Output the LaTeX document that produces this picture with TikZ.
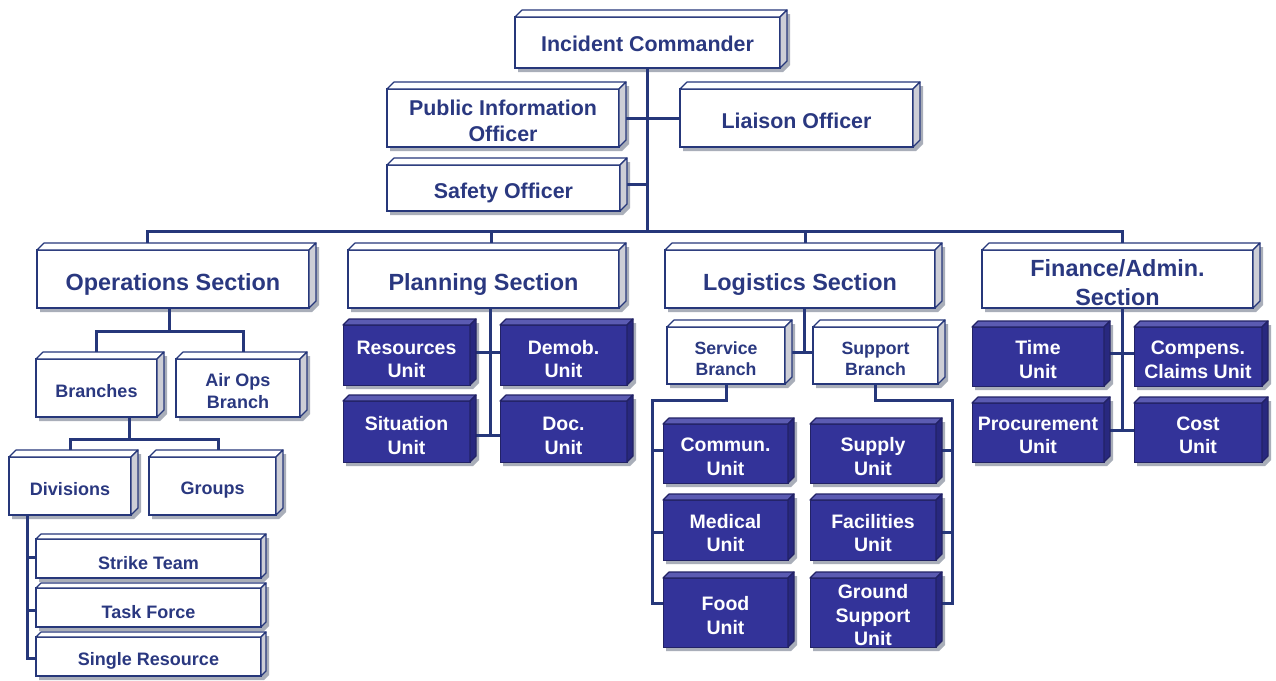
\documentclass[tikz,border=0pt]{standalone}
\usepackage{fontspec}
\setmainfont{Liberation Sans}
\usetikzlibrary{calc}
\definecolor{lineC}{HTML}{26377A}
\definecolor{txtC}{HTML}{2A3880}
\definecolor{bFront}{HTML}{333399}
\definecolor{bTop}{HTML}{5B5BB2}
\definecolor{bSide}{HTML}{28287F}
\definecolor{bEdge}{HTML}{222266}
\definecolor{wSide}{HTML}{CDCED6}
\definecolor{shadowC}{HTML}{A9AEB9}
\pgfdeclarelayer{back}\pgfdeclarelayer{shadow}\pgfdeclarelayer{lines}
\pgfsetlayers{back,shadow,lines,main}
\tikzset{
  wbox/.style={draw=lineC, line width=1.5pt, fill=white, text=txtC, inner sep=0pt, outer sep=0pt, align=center},
  bbox/.style={draw=bEdge, line width=1pt, fill=bFront, text=white, inner sep=0pt, outer sep=0pt, align=center, font=\fontsize{19.5}{23.4}\selectfont\bfseries},
  conn/.style={draw=lineC, line width=3pt, line cap=rect},
  fsec/.style={font=\fontsize{23.4}{28.1}\selectfont\bfseries},
  foff/.style={font=\fontsize{21.4}{25.7}\selectfont\bfseries},
  fsmall/.style={font=\fontsize{18}{21.6}\selectfont\bfseries},
  fbr/.style={font=\fontsize{17.7}{21.3}\selectfont\bfseries},
  sz/.style 2 args={minimum width=#1pt, minimum height=#2pt},
}
% lowers the text in its box by #1 pt (adds height above the first line)
\newcommand\sh[1][3.5]{\rule{0pt}{\dimexpr0.74em+#1pt+#1pt\relax}}
\newcommand\boxfaces[5]{%
  \path[fill=#3,draw=#5,line width=1.2pt,line join=round] (#1.north west) -- ++(#2,-#2) -- ($(#1.north east)+(#2,-#2)$) -- (#1.north east) -- cycle;
  \path[fill=#4,draw=#5,line width=1.2pt,line join=round] (#1.north east) -- ++(#2,-#2) -- ($(#1.south east)+(#2,-#2)$) -- (#1.south east) -- cycle;
  \begin{pgfonlayer}{shadow}
  \fill[shadowC] ($(#1.south west)+(3,4)$) -- ($(#1.north west)+(3,4)$) -- ($(#1.north east)+(#2+3,4-#2)$) -- ($(#1.south east)+(#2+3,4-#2)$) -- ($(#1.south east)+(3,4)$) -- cycle;
  \end{pgfonlayer}
}
\newcommand\wfaces[2]{\boxfaces{#1}{#2}{white}{wSide}{lineC}}
\newcommand\bfaces[1]{\boxfaces{#1}{6}{bTop}{bSide}{bEdge}}
\begin{document}
\begin{tikzpicture}[x=1pt,y=-1pt]
\begin{pgfonlayer}{back}
\path[use as bounding box, fill=white] (0,0) rectangle (1276,679);
\end{pgfonlayer}
% top
\node[wbox,foff,sz={265}{51}] (IC) at (647.5,42.5) {\sh[1]Incident Commander}; \wfaces{IC}{7}
\node[wbox,foff,sz={232}{58}] (PIO) at (503,118) {\sh[3]Public Information\\Officer}; \wfaces{PIO}{7}
\node[wbox,foff,sz={233}{58}] (LO) at (796.5,118) {\sh[3]Liaison Officer}; \wfaces{LO}{7}
\node[wbox,foff,sz={233}{46}] (SO) at (503.5,188) {\sh[4.5]Safety Officer}; \wfaces{SO}{7}
% sections
\node[wbox,fsec,sz={272}{58}] (OPS) at (173,279) {\sh[5]Operations Section}; \wfaces{OPS}{7}
\node[wbox,fsec,sz={271}{58}] (PLN) at (483.5,279) {\sh[5]Planning Section}; \wfaces{PLN}{7}
\node[wbox,fsec,sz={270}{58}] (LOG) at (800,279) {\sh[5]Logistics Section}; \wfaces{LOG}{7}
\node[wbox,fsec,sz={271}{58}] (FIN) at (1117.5,279) {\sh[3.5]Finance/Admin.\\Section}; \wfaces{FIN}{7}
% operations
\node[wbox,fsmall,sz={121}{58}] (BR) at (96.5,388) {\sh[3]Branches}; \wfaces{BR}{7}
\node[wbox,fsmall,sz={124}{58}] (AIR) at (238,388) {\sh[3]Air Ops\\Branch}; \wfaces{AIR}{7}
\node[wbox,fsmall,sz={122}{58}] (DIV) at (70,486) {\sh[3]Divisions}; \wfaces{DIV}{7}
\node[wbox,fsmall,sz={127}{58}] (GRP) at (212.5,486) {\sh[4]Groups}; \wfaces{GRP}{7}
\node[wbox,fsmall,sz={225}{39}] (ST) at (148.5,558.5) {\sh[4]Strike Team}; \wfaces{ST}{5}
\node[wbox,fsmall,sz={225}{39}] (TF) at (148.5,607.5) {\sh[4]Task Force}; \wfaces{TF}{5}
\node[wbox,fsmall,sz={225}{39}] (SR) at (148.5,656.5) {\sh[4]Single Resource}; \wfaces{SR}{5}
% planning
\node[bbox,sz={127}{60}] (RES) at (406.5,355) {\sh[4]Resources\\Unit}; \bfaces{RES}
\node[bbox,sz={127}{60}] (DEM) at (563.5,355) {\sh[4]Demob.\\Unit}; \bfaces{DEM}
\node[bbox,sz={127}{61}] (SIT) at (406.5,431.5) {\sh[4]Situation\\Unit}; \bfaces{SIT}
\node[bbox,sz={127}{61}] (DOC) at (563.5,431.5) {\sh[4]Doc.\\Unit}; \bfaces{DOC}
% logistics
\node[wbox,fbr,sz={118}{57}] (SVC) at (726,355.5) {\sh[3]Service\\Branch}; \wfaces{SVC}{7}
\node[wbox,fbr,sz={125}{57}] (SUP) at (875.5,355.5) {\sh[3]Support\\Branch}; \wfaces{SUP}{7}
\node[bbox,sz={125}{59}] (COM) at (725.5,453.5) {\sh[3]Commun.\\Unit}; \bfaces{COM}
\node[bbox,sz={125}{60}] (MED) at (725.5,530) {\sh[3]Medical\\Unit}; \bfaces{MED}
\node[bbox,sz={125}{69}] (FOOD) at (725.5,612.5) {\sh[3]Food\\Unit}; \bfaces{FOOD}
\node[bbox,sz={126}{59}] (SPL) at (873,453.5) {\sh[3]Supply\\Unit}; \bfaces{SPL}
\node[bbox,sz={126}{60}] (FAC) at (873,530) {\sh[3]Facilities\\Unit}; \bfaces{FAC}
\node[bbox,sz={126}{69},font=\fontsize{19.5}{23.4}\selectfont\bfseries] (GND) at (873,612.5) {\sh[2.5]Ground\\Support\\Unit}; \bfaces{GND}
% finance
\node[bbox,sz={132}{59}] (TIME) at (1038,356.5) {\sh[3]Time\\Unit}; \bfaces{TIME}
\node[bbox,sz={128}{59}] (CMP) at (1198,356.5) {\sh[3]Compens.\\Claims Unit}; \bfaces{CMP}
\node[bbox,sz={132}{59}] (PRC) at (1038,432.5) {\sh[2.5]Procurement\\Unit}; \bfaces{PRC}
\node[bbox,sz={128}{59}] (COST) at (1198,432.5) {\sh[2.5]Cost\\Unit}; \bfaces{COST}
% connectors
\begin{pgfonlayer}{lines}
\coordinate (jO) at (147,231); \coordinate (jP) at (491,231);
\coordinate (jL) at (805,231); \coordinate (jF) at (1122,231);
\draw[conn] (jO) -- (jF);
\draw[conn] (IC.south) -- (IC.south |- jO);
\draw[conn] (jO) -- (jO |- OPS.north);
\draw[conn] (jP) -- (jP |- PLN.north);
\draw[conn] (jL) -- (jL |- LOG.north);
\draw[conn] (jF) -- (jF |- FIN.north);
\draw[conn] (PIO.east) -- (LO.west);
\draw[conn] ($(SO.east)+(0,-4)$) -- ($(SO.east -| IC.south)+(0,-4)$);
% operations
\coordinate (oJ) at (169,331);
\draw[conn] (oJ |- OPS.south) -- (oJ);
\draw[conn] (BR.north) |- ($(AIR.north |- oJ)+(5,0)$) -- ($(AIR.north)+(5,0)$);
\coordinate (bJ) at (129,439);
\draw[conn] (bJ |- BR.south) -- (bJ);
\draw[conn] (DIV.north) |- ($(GRP.north |- bJ)+(6,0)$) -- ($(GRP.north)+(6,0)$);
\coordinate (dX) at (27,515);
\draw[conn] (DIV.south -| dX) |- ($(SR.west)+(0,2)$);
\draw[conn] ($(dX |- ST.west)+(0,-1)$) -- ($(ST.west)+(0,-1)$);
\draw[conn] ($(dX |- TF.west)+(0,3)$) -- ($(TF.west)+(0,3)$);
% planning
\coordinate (pX) at (490,308);
\draw[conn] (pX) -- ($(pX |- SIT.east)+(0,4)$);
\draw[conn] ($(RES.east)+(0,-3)$) -- ($(DEM.west)+(0,-3)$);
\draw[conn] ($(SIT.east)+(0,4)$) -- ($(DOC.west)+(0,4)$);
% logistics
\coordinate (lX) at (804,308);
\draw[conn] (lX) -- ($(lX |- SVC.east)+(0,-3)$);
\draw[conn] ($(SVC.east)+(0,-3)$) -- ($(SUP.west)+(0,-3)$);
\coordinate (sL) at (652,400);
\draw[conn] (SVC.south) |- (sL) |- ($(FOOD.west)+(0,-9)$);
\draw[conn] ($(sL |- COM.west)+(0,-3)$) -- ($(COM.west)+(0,-3)$);
\draw[conn] ($(sL |- MED.west)+(0,2)$) -- ($(MED.west)+(0,2)$);
\coordinate (sR) at (952,400);
\draw[conn] (SUP.south) |- (sR) |- ($(GND.east)+(0,-9)$);
\draw[conn] ($(sR |- SPL.east)+(0,-3)$) -- ($(SPL.east)+(0,-3)$);
\draw[conn] ($(sR |- FAC.east)+(0,2)$) -- ($(FAC.east)+(0,2)$);
% finance
\coordinate (fX) at (1122,308);
\draw[conn] (fX) -- ($(fX |- PRC.east)+(0,-2)$);
\draw[conn] ($(TIME.east)+(0,-3)$) -- ($(CMP.west)+(0,-3)$);
\draw[conn] ($(PRC.east)+(0,-2)$) -- ($(COST.west)+(0,-2)$);
\end{pgfonlayer}
\end{tikzpicture}
\end{document}
